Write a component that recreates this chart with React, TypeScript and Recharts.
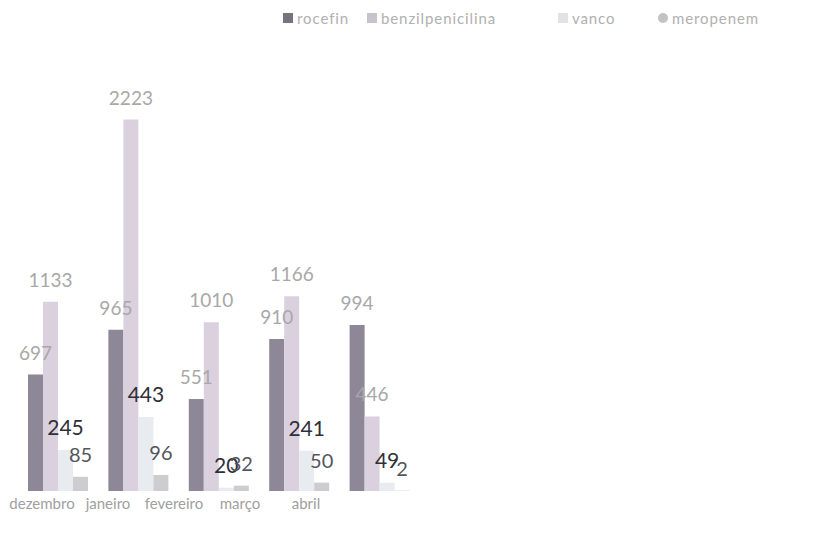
import { BarChart, Bar, XAxis, YAxis, Legend, LabelList } from 'recharts'

const MONTHS = ['dezembro', 'janeiro', 'fevereiro', 'março', 'abril']
const ROCEFIN = [697, 965, 551, 910, 994]
const BENZILPENICILINA = [1133, 2223, 1010, 1166, 446]
const VANCO = [245, 443, 20, 241, 49]
const MEROPENEM = [85, 96, 32, 50, 2]

const FONT = 'Lato, "Open Sans", sans-serif'

// bar fill, legend swatch, value label colour + size
const SERIES = [
  { key: 'rocefin', fill: '#8d8797', icon: '#77737e', text: '#a8a8a8', size: 19 },
  { key: 'benzilpenicilina', fill: '#dbd1de', icon: '#c6c3cd', text: '#a8a8a8', size: 19 },
  { key: 'vanco', fill: '#e8ecf0', icon: '#e2e2e4', text: '#2f2f38', size: 21 },
  { key: 'meropenem', fill: '#cdcdcf', icon: '#c2c2c4', text: '#55555c', size: 20 },
]

// legend item widths, so the items land where the scanned legend has them
const LEGEND_WIDTHS = [84, 191, 100, 130]

const data = MONTHS.map((month, i) => ({
  month,
  rocefin: ROCEFIN[i],
  benzilpenicilina: BENZILPENICILINA[i],
  vanco: VANCO[i],
  meropenem: MEROPENEM[i],
}))

const renderLegend = () => (
  <div style={{ display: 'flex', fontFamily: FONT, fontSize: 15, color: '#b0b0b0', letterSpacing: '0.06em' }}>
    {SERIES.map((s, i) => (
      <div key={s.key} style={{ display: 'flex', alignItems: 'center', width: LEGEND_WIDTHS[i] }}>
        <span
          style={{
            display: 'inline-block',
            width: 10,
            height: 10,
            marginRight: 4,
            background: s.icon,
            borderRadius: i === 3 ? '50%' : 0,
          }}
        />
        {s.key}
      </div>
    ))}
  </div>
)

export default function App() {
  return (
    <div style={{ position: 'absolute', left: 0, top: 0, width: 825, height: 537, background: '#fff' }}>
      <BarChart
        width={825}
        height={537}
        data={data}
        margin={{ top: 90, right: 405, bottom: 16, left: 9 }}
        barGap={0}
        barSize={15}
      >
        <XAxis dataKey="month" hide height={0} padding={{ left: 9, right: 0 }} />
        {/* the printed month names sit on a narrower spacing than the bars */}
        <XAxis
          xAxisId="labels"
          dataKey="month"
          height={30}
          padding={{ left: 0, right: 81 }}
          axisLine={false}
          tickLine={false}
          tickSize={0}
          tickMargin={7}
          interval={0}
          tick={{ fill: '#a0a0a0', fontSize: 15, fontFamily: FONT }}
        />
        <YAxis hide domain={[0, 2400]} />
        <Legend
          content={renderLegend}
          verticalAlign="middle"
          align="center"
          wrapperStyle={{ position: 'absolute', left: 283, top: 9, width: 540 }}
        />
        {SERIES.map(s => (
          <Bar key={s.key} dataKey={s.key} fill={s.fill} isAnimationActive={false}>
            <LabelList
              dataKey={s.key}
              position="top"
              offset={15}
              fill={s.text}
              fontSize={s.size}
              fontFamily={FONT}
            />
          </Bar>
        ))}
      </BarChart>
    </div>
  )
}
